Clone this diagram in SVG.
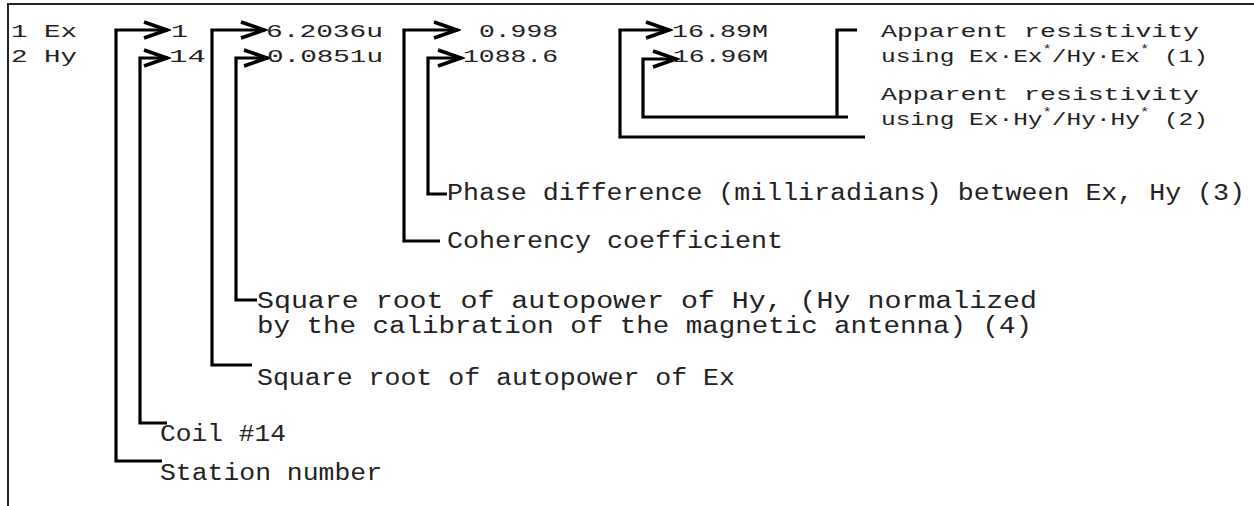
<svg xmlns="http://www.w3.org/2000/svg" width="1254" height="506" viewBox="0 0 1254 506">
<defs>
<style>
text{font-family:"Liberation Mono","DejaVu Sans Mono",monospace;fill:#222;}
.v{font-size:19px;}
.l{font-size:23px;}
.sup{font-size:12px;}
.c{fill:none;stroke:#000;stroke-width:3.2;stroke-linejoin:miter;stroke-linecap:butt;}
</style>
<marker id="arr" markerUnits="userSpaceOnUse" markerWidth="30" markerHeight="24" viewBox="0 0 30 24" refX="27" refY="12" orient="auto">
<path d="M3,4 L26,12 L3,20" fill="none" stroke="#000" stroke-width="3.6"/>
</marker>
</defs>
<rect width="1254" height="506" fill="#fff"/>
<path id="frame" d="M8,506 V4 H1254" fill="none" stroke="#222" stroke-width="2"/>

<g id="connectors">
<path class="c" d="M162,461 H116 V30 H168" marker-end="url(#arr)"/>
<path class="c" d="M167,423 H140 V58 H168" marker-end="url(#arr)"/>
<path class="c" d="M252,365 H212 V30 H265" marker-end="url(#arr)"/>
<path class="c" d="M257,300 H236 V58 H268" marker-end="url(#arr)"/>
<path class="c" d="M440,241 H404 V30 H458" marker-end="url(#arr)"/>
<path class="c" d="M447,194 H428 V58 H462" marker-end="url(#arr)"/>
<path class="c" d="M865,137 H620 V30 H670" marker-end="url(#arr)"/>
<path class="c" d="M857,30 H837 V117"/>
<path class="c" d="M848,117 H643 V59 H677" marker-end="url(#arr)"/>
</g>

<g id="row-ex">
<text class="v" x="11" y="37" textLength="66" lengthAdjust="spacingAndGlyphs">1 Ex</text>
<text class="v" x="171" y="37" textLength="17" lengthAdjust="spacingAndGlyphs">1</text>
<text class="v" x="266" y="37" textLength="117" lengthAdjust="spacingAndGlyphs">6.2036u</text>
<text class="v" x="479" y="37" textLength="79" lengthAdjust="spacingAndGlyphs">0.998</text>
<text class="v" x="672" y="37" textLength="96" lengthAdjust="spacingAndGlyphs">16.89M</text>
</g>
<g id="row-hy">
<text class="v" x="11" y="62" textLength="66" lengthAdjust="spacingAndGlyphs">2 Hy</text>
<text class="v" x="169" y="62" textLength="37" lengthAdjust="spacingAndGlyphs">14</text>
<text class="v" x="267" y="62" textLength="116" lengthAdjust="spacingAndGlyphs">0.0851u</text>
<text class="v" x="463" y="62" textLength="95" lengthAdjust="spacingAndGlyphs">1088.6</text>
<text class="v" x="673" y="62" textLength="95" lengthAdjust="spacingAndGlyphs">16.96M</text>
</g>

<g id="label-rho1">
<text class="v" x="881" y="37" textLength="318" lengthAdjust="spacingAndGlyphs">Apparent resistivity</text>
<text class="v" x="881" y="62" textLength="327" lengthAdjust="spacingAndGlyphs">using Ex·Ex<tspan class="sup" dy="-9">*</tspan><tspan dy="9">/Hy·Ex</tspan><tspan class="sup" dy="-9">*</tspan><tspan dy="9"> (1)</tspan></text>
</g>
<g id="label-rho2">
<text class="v" x="881" y="100" textLength="318" lengthAdjust="spacingAndGlyphs">Apparent resistivity</text>
<text class="v" x="881" y="125" textLength="327" lengthAdjust="spacingAndGlyphs">using Ex·Hy<tspan class="sup" dy="-9">*</tspan><tspan dy="9">/Hy·Hy</tspan><tspan class="sup" dy="-9">*</tspan><tspan dy="9"> (2)</tspan></text>
</g>
<g id="label-phase">
<text class="l" x="447" y="200" textLength="798" lengthAdjust="spacingAndGlyphs">Phase difference (milliradians) between Ex, Hy (3)</text>
</g>
<g id="label-coherency">
<text class="l" x="447" y="248" textLength="336" lengthAdjust="spacingAndGlyphs">Coherency coefficient</text>
</g>
<g id="label-hy">
<text class="l" x="257" y="308" textLength="780" lengthAdjust="spacingAndGlyphs">Square root of autopower of Hy, (Hy normalized</text>
<text class="l" x="257" y="333" textLength="775" lengthAdjust="spacingAndGlyphs">by the calibration of the magnetic antenna) (4)</text>
</g>
<g id="label-ex">
<text class="l" x="257" y="385" textLength="478" lengthAdjust="spacingAndGlyphs">Square root of autopower of Ex</text>
</g>
<g id="label-coil">
<text class="l" x="160" y="441" textLength="126" lengthAdjust="spacingAndGlyphs">Coil #14</text>
</g>
<g id="label-station">
<text class="l" x="160" y="480" textLength="222" lengthAdjust="spacingAndGlyphs">Station number</text>
</g>
</svg>
